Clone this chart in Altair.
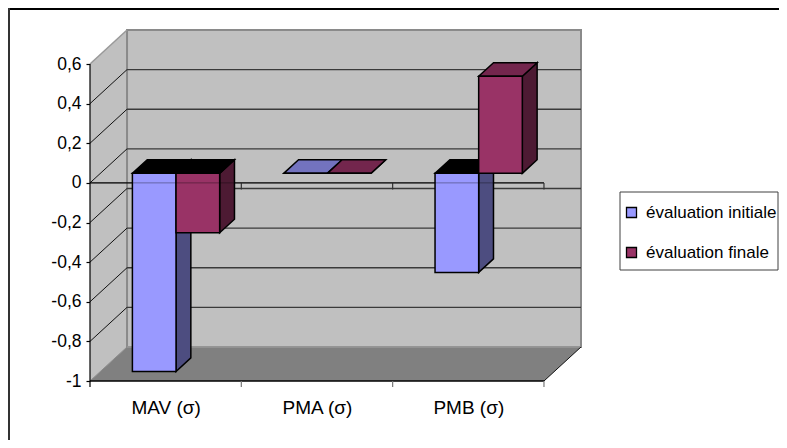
import json
import altair as alt
import pandas as pd

categories = ["MAV (σ)", "PMA (σ)", "PMB (σ)"]
series = ["évaluation initiale", "évaluation finale"]
initial = [-1.0, 0.0, -0.5]
final = [-0.3, 0.0, 0.49]
y_ticks = [-1, -0.8, -0.6, -0.4, -0.2, 0, 0.2, 0.4, 0.6]

FONT = "Liberation Sans"
DX = 37 / 151.2          # wall depth, in category units
DY = 34 / 198            # wall depth, in value units
W = 43.6 / 151.2         # bar width, in category units
F, B = 0.28, 0.68        # front and back of bars, as a share of the depth
WALL, FLOOR = "#c0c0c0", "#808080"
FRONT = ["#9999ff", "#993366"]
SIDE = ["#4d4d80", "#4d1a33"]
TOP = ["#7373bf", "#73264d"]

xs = alt.Scale(domain=[0, 3 + DX], nice=False, zero=False)
ys = alt.Scale(domain=[-1, 0.6 + DY], nice=False, zero=False)
X = lambda f="x", **k: alt.X(f"{f}:Q", scale=xs, title=None, **k)
Y = lambda f="y", **k: alt.Y(f"{f}:Q", scale=ys, title=None, **k)
X2 = lambda f="x2": alt.X2(f"{f}:Q")
Y2 = lambda f="y2": alt.Y2(f"{f}:Q")

layers = []

# Real axes carrying the tick labels
axis_df = pd.DataFrame({"x": [0.5, 1.5, 2.5], "y": [0, 0, 0]})
cat_expr = json.dumps(categories, ensure_ascii=False) + "[floor(datum.value)]"
layers.append(alt.Chart(axis_df).mark_point(opacity=0).encode(
    x=alt.X("x:Q", scale=xs, title=None, axis=alt.Axis(
        values=[0.5, 1.5, 2.5], labelExpr=cat_expr, ticks=False, domain=False, grid=False,
        labelFont=FONT, labelFontSize=19, labelColor="black", labelPadding=17, labelAngle=0,
        labelOverlap=False)),
    y=alt.Y("y:Q", scale=ys, title=None, axis=alt.Axis(
        values=y_ticks, labelExpr="replace('' + datum.value, '.', ',')", domain=False, grid=False,
        tickColor="black", tickSize=4, tickWidth=1.2, labelFont=FONT, labelFontSize=17.5,
        labelColor="black", labelPadding=5, labelOverlap=False)),
))


def vband(rows, color=None, stroke=None, sw=1.5, enc=None):
    kw = {"color": color} if color else {}
    if stroke:
        kw.update(stroke=stroke, strokeWidth=sw)
    e = dict(x=X(), y=Y(), y2=Y2())
    if enc:
        e.update(enc)
    return alt.Chart(pd.DataFrame(rows)).mark_area(orient="vertical", **kw).encode(**e)


def hband(rows, color, stroke=None, sw=1.5):
    kw = {"color": color}
    if stroke:
        kw.update(stroke=stroke, strokeWidth=sw)
    return alt.Chart(pd.DataFrame(rows)).mark_area(orient="horizontal", **kw).encode(
        y=Y(), x=X(), x2=X2())


def segment(x0, y0, x1, y1, color="black", sw=1.0, opacity=1.0):
    d = pd.DataFrame([{"x": x0, "y": y0, "x2": x1, "y2": y1}])
    return alt.Chart(d).mark_rule(color=color, strokeWidth=sw, opacity=opacity).encode(
        x=X(), y=Y(), x2=X2(), y2=Y2())


# Walls and floor
layers.append(vband([{"x": 0, "y": -1, "y2": 0.6}, {"x": DX, "y": -1 + DY, "y2": 0.6 + DY}], color=WALL))
layers.append(alt.Chart(pd.DataFrame([{"x": DX, "x2": 3 + DX, "y": -1 + DY, "y2": 0.6 + DY}]))
              .mark_rect(fill=WALL, stroke="#8a8a8a", strokeWidth=2)
              .encode(x=X(), x2=X2(), y=Y(), y2=Y2()))
layers.append(hband([{"y": -1, "x": 0, "x2": 3}, {"y": -1 + DY, "x": DX, "x2": 3 + DX}], color=FLOOR))
layers.append(segment(DX, -1 + DY, 3 + DX, -1 + DY, color="#999999", sw=1.5))

# Gridlines on the walls
for t in y_ticks:
    if t in (-1, 0.6):
        continue
    layers.append(segment(DX, t + DY, 3 + DX, t + DY, color="#3a3a3a", sw=1.4))
    layers.append(segment(0, t, DX, t + DY, color="#111111", sw=1))
layers.append(segment(0, 0.6, DX, 0.6 + DY, color="#999999", sw=1.5))
layers.append(segment(0, -1, DX, -1 + DY, color="#8a8a8a", sw=1))
layers.append(segment(3, -1, 3 + DX, -1 + DY, color="#111111", sw=1))

# Zero plane line and its ticks
layers.append(segment(0, 0, 3, 0, color="#111111", sw=1.2))
for i in (1, 2, 3):
    layers.append(segment(i, 0, i, -6.5 / 198, color="#333333", sw=1.2))

# Axis lines
layers.append(segment(0, -1, 0, 0.6, sw=1.2))
layers.append(segment(0, -1, 3, -1, sw=1.5))
layers.append(segment(0, -1, 0, -1 - 6 / 198, sw=1.2))
for i in (1, 2, 3):
    layers.append(segment(i, -1, i, -1 - 6 / 198, color="#777777", sw=1.2))

# Legend box
layers.append(alt.Chart(pd.DataFrame({"k": [0]})).mark_rect(fill="white", stroke="#404040", strokeWidth=1).encode(
    x=alt.value(530), x2=alt.value(688), y=alt.value(162), y2=alt.value(240)))

# Bars
color_scale = alt.Scale(domain=series, range=FRONT)
legend = alt.Legend(
    orient="none", legendX=533, legendY=174, title=None, symbolType="square",
    symbolSize=100, symbolStrokeColor="black", symbolStrokeWidth=1.3,
    labelFont=FONT, labelFontSize=17, labelColor="black", labelLimit=300,
    padding=0, rowPadding=22, labelOffset=6, values=series,
)
for i in range(len(categories)):
    for s, vals in enumerate([initial, final]):
        v = vals[i]
        x0 = i + 0.5 - W if s == 0 else i + 0.5
        x1 = x0 + W
        lo, hi = min(v, 0), max(v, 0)
        fx, fy, bx, by = F * DX, F * DY, B * DX, B * DY
        layers.append(vband([{"x": x1 + fx, "y": lo + fy, "y2": hi + fy},
                             {"x": x1 + bx, "y": lo + by, "y2": hi + by}],
                            color=SIDE[s], stroke="black"))
        layers.append(hband([{"y": hi + fy, "x": x0 + fx, "x2": x1 + fx},
                             {"y": hi + by, "x": x0 + bx, "x2": x1 + bx}],
                            color="#000000" if v < 0 else TOP[s], stroke="black"))
        rows = [{"x": x0 + fx, "y": lo + fy, "y2": hi + fy, "s": series[s]},
                {"x": x1 + fx, "y": lo + fy, "y2": hi + fy, "s": series[s]}]
        layers.append(vband(rows, stroke="black", enc={
            "color": alt.Color("s:N", scale=color_scale, sort=None, legend=legend)}))

# Zero line seen faintly through the bars
layers.append(segment(0, 0, 3, 0, color="black", sw=1, opacity=0.35))

# Chart frame: only the top and left edges show
layers.append(alt.Chart(pd.DataFrame({"k": [0]})).mark_rule(color="black", strokeWidth=2).encode(
    x=alt.value(-82), x2=alt.value(689), y=alt.value(-21)))
layers.append(alt.Chart(pd.DataFrame({"k": [0]})).mark_rule(color="#333333", strokeWidth=2).encode(
    x=alt.value(-81), y=alt.value(-22), y2=alt.value(410)))

chart = alt.layer(*layers).properties(
    width=491, height=351,
    padding={"left": 82, "top": 22, "right": 198, "bottom": 59},
    autosize=alt.AutoSizeParams(type="none"),
    background="white",
).configure_view(stroke=None)

chart.save("out.html", embed_options={"renderer": "svg", "actions": False})
